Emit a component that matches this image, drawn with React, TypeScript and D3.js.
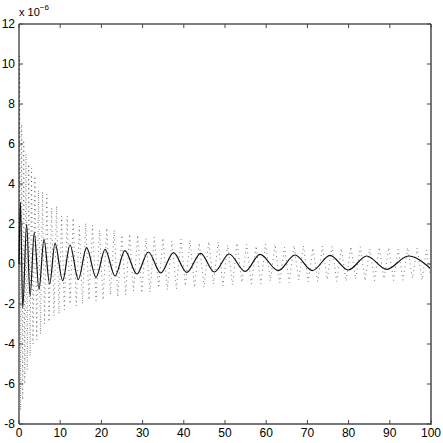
import React, { useEffect, useRef } from "react";
import * as d3 from "d3";

// solid trace: extrema (x, value in 1e-6 units)
const solidX = [0, 0.35, 0.9, 1.85, 2.7, 3.7, 4.85, 6.07, 7.44, 8.74, 10.6, 12.38, 14.4, 16.4, 18.7, 20.9, 23.3, 25.7, 28.6, 31.4, 34.4, 37.5, 40.7, 44.1, 47.4, 51.0, 54.9, 58.5, 62.9, 67.0, 71.2, 75.5, 79.9, 84.4, 89.2, 94.5, 100];
const solidY = [0, 3.1, -2.2, 1.98, -1.6, 1.57, -1.27, 1.23, -1.0, 1.03, -0.83, 0.95, -0.77, 0.82, -0.67, 0.73, -0.6, 0.67, -0.5, 0.6, -0.45, 0.57, -0.42, 0.53, -0.4, 0.5, -0.37, 0.48, -0.33, 0.45, -0.33, 0.43, -0.3, 0.4, -0.27, 0.4, -0.25];

// dotted trace: turning points of the fast oscillation
const dotX = [0, 0.15, 0.4, 0.65, 0.9, 1.15, 1.4, 1.7, 2.0, 2.35, 2.7, 3.05, 3.4, 3.85, 4.3, 4.75, 5.2, 5.7, 6.2, 6.75, 7.3, 7.9, 8.5, 9.1, 9.7, 10.35, 11.0, 11.7, 12.4, 13.15, 13.9, 14.65, 15.4, 16.2, 17.0, 17.85, 18.7, 19.55, 20.4, 21.3, 22.2, 23.1, 24.0, 24.95, 25.9, 26.85, 27.8, 28.8, 29.8, 30.8, 31.8, 32.85, 33.9, 34.95, 36.0, 37.1, 38.2, 39.3, 40.4, 41.5, 42.6, 43.75, 44.9, 46.05, 47.2, 48.35, 49.5, 50.65, 51.8, 52.95, 54.1, 55.25, 56.4, 57.55, 58.7, 59.85, 61.0, 62.15, 63.3, 64.45, 65.6, 66.75, 67.9, 69.05, 70.2, 71.35, 72.5, 73.65, 74.8, 75.95, 77.1, 78.25, 79.4, 80.55, 81.7, 82.85, 84.0, 85.15, 86.3, 87.45, 88.6, 89.75, 90.9, 92.05, 93.2, 94.35, 95.5, 96.65, 97.8, 98.9, 100];
const dotY = [0, 10.4, -7.3, 7.0, -6.8, 6.2, -6.0, 5.5, -5.3, 5.0, -4.6, 4.8, -4.0, 4.4, -3.8, 3.7, -3.5, 3.6, -3.0, 3.5, -2.9, 2.8, -2.6, 2.9, -2.5, 2.4, -2.3, 2.4, -2.0, 2.3, -2.1, 1.9, -2.0, 2.05, -1.8, 1.95, -1.85, 1.7, -1.8, 1.8, -1.55, 1.7, -1.65, 1.45, -1.55, 1.5, -1.35, 1.45, -1.45, 1.3, -1.4, 1.35, -1.2, 1.3, -1.3, 1.15, -1.25, 1.25, -1.1, 1.2, -1.18, 1.05, -1.15, 1.12, -1.0, 1.1, -1.1, 0.95, -1.05, 1.05, -0.92, 1.0, -1.0, 0.9, -1.0, 1.0, -0.85, 0.97, -0.95, 0.85, -0.93, 0.93, -0.8, 0.92, -0.9, 0.8, -0.88, 0.9, -0.78, 0.88, -0.87, 0.78, -0.86, 0.87, -0.75, 0.86, -0.84, 0.76, -0.83, 0.84, -0.74, 0.83, -0.82, 0.74, -0.81, 0.82, -0.72, 0.8, -0.8, 0.7, -0.78];

const xTicks = [0, 10, 20, 30, 40, 50, 60, 70, 80, 90, 100];
const yTicks = [-8, -6, -4, -2, 0, 2, 4, 6, 8, 10, 12];

const App = () => {
    const ref = useRef<SVGSVGElement>(null);

    useEffect(() => {
        const svg = d3.select(ref.current);
        svg.selectAll("*").remove();

        const left = 19, right = 431, top = 24, bottom = 424;
        const x = d3.scaleLinear().domain([0, 100]).range([left, right]);
        const y = d3.scaleLinear().domain([-8, 12]).range([bottom, top]);
        const font = "'Liberation Sans Narrow', 'Liberation Sans', Arial, sans-serif";

        svg.append("rect").attr("width", 443).attr("height", 443).attr("fill", "#fff");

        // dotted trace
        const dotLine = d3.line<number>()
            .x((d, i) => x(dotX[i]))
            .y(d => y(d));
        svg.append("path")
            .datum(dotY)
            .attr("d", dotLine)
            .attr("fill", "none")
            .attr("stroke", "#555")
            .attr("stroke-width", 0.8)
            .attr("stroke-dasharray", "1,3.5");

        // solid trace
        const solidLine = d3.line<number>()
            .x((d, i) => x(solidX[i]))
            .y(d => y(d))
            .curve(d3.curveMonotoneX);
        svg.append("path")
            .datum(solidY)
            .attr("d", solidLine)
            .attr("fill", "none")
            .attr("stroke", "#111")
            .attr("stroke-width", 1.2);

        // box
        svg.append("line").attr("x1", left).attr("x2", left).attr("y1", top).attr("y2", bottom).attr("stroke", "#000");
        svg.append("line").attr("x1", left).attr("x2", right).attr("y1", top).attr("y2", top).attr("stroke", "#000");
        svg.append("line").attr("x1", left).attr("x2", right + 1).attr("y1", bottom).attr("y2", bottom).attr("stroke", "#777").attr("stroke-width", 2);
        svg.append("line").attr("x1", right).attr("x2", right).attr("y1", top).attr("y2", bottom).attr("stroke", "#777").attr("stroke-width", 2);

        // ticks, inward on all sides
        const tl = 4;
        xTicks.forEach(t => {
            svg.append("line").attr("x1", x(t)).attr("x2", x(t)).attr("y1", bottom).attr("y2", bottom - tl).attr("stroke", "#444");
            svg.append("line").attr("x1", x(t)).attr("x2", x(t)).attr("y1", top).attr("y2", top + tl).attr("stroke", "#444");
            svg.append("text")
                .attr("x", x(t))
                .attr("y", 437)
                .attr("text-anchor", "middle")
                .attr("font-family", font)
                .attr("font-size", 12)
                .text(t);
        });
        yTicks.forEach(t => {
            svg.append("line").attr("x1", left).attr("x2", left + tl).attr("y1", y(t)).attr("y2", y(t)).attr("stroke", "#444");
            svg.append("line").attr("x1", right).attr("x2", right - tl).attr("y1", y(t)).attr("y2", y(t)).attr("stroke", "#444");
            svg.append("text")
                .attr("x", 15)
                .attr("y", y(t) + 4)
                .attr("text-anchor", "end")
                .attr("font-family", font)
                .attr("font-size", 12)
                .text(t);
        });

        // exponent label
        const exp = svg.append("text")
            .attr("x", 19)
            .attr("y", 16)
            .attr("font-family", font)
            .attr("font-size", 11)
            .text("x 10");
        exp.append("tspan")
            .attr("dy", -6)
            .attr("font-size", 8)
            .text("−6");
    }, []);

    return (
        <div style={{ position: "fixed", left: 0, top: 0 }}>
            <svg ref={ref} width={443} height={443}></svg>
        </div>
    );
};

export default App;
